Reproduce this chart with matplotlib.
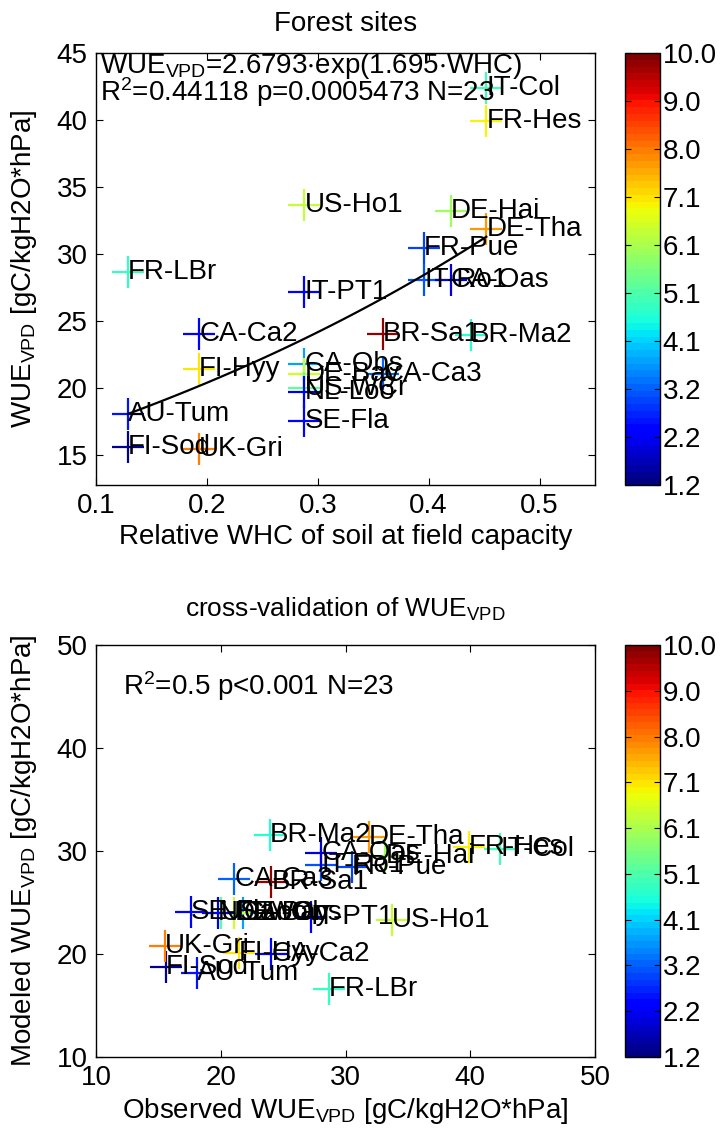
import numpy as np
import matplotlib
matplotlib.use("Agg")
import matplotlib.pyplot as plt

plt.rcParams['font.family'] = ['Liberation Sans', 'DejaVu Sans']
plt.rcParams['mathtext.fontset'] = 'custom'
plt.rcParams['mathtext.rm'] = 'Liberation Sans'
plt.rcParams['mathtext.it'] = 'Liberation Sans'
plt.rcParams['mathtext.default'] = 'regular'

# ---- data ----
sites = ["US-Ho1", "IT-Col", "FR-Hes", "DE-Hai", "DE-Tha", "FR-Pue", "FR-LBr",
         "IT-PT1", "CA-Ca2", "FI-Hyy", "AU-Tum", "FI-Sod", "UK-Gri", "CA-Obs",
         "DE-Bay", "US-WCr", "NL-Loo", "SE-Fla", "CA-Ca3", "BR-Sa1", "BR-Ma2",
         "IT-Ro1", "CA-Oas"]
whc = [0.288, 0.452, 0.452, 0.420, 0.452, 0.396, 0.129,
       0.288, 0.193, 0.193, 0.129, 0.129, 0.193, 0.288,
       0.288, 0.288, 0.288, 0.288, 0.359, 0.359, 0.438,
       0.396, 0.420]
wue_obs = [33.7, 42.4, 39.9, 33.2, 31.9, 30.5, 28.65,
           27.2, 24.05, 21.45, 18.1, 15.6, 15.5, 21.8,
           21.1, 20.0, 19.75, 17.6, 21.1, 24.05, 23.95,
           28.05, 28.05]
wue_mod = [23.3, 30.2, 30.4, 29.5, 31.4, 28.4, 16.6,
           23.6, 20.0, 20.1, 18.2, 18.7, 20.8, 24.0,
           24.0, 24.0, 24.0, 24.05, 27.3, 27.0, 31.6,
           28.6, 29.8]
color_val = [6.4, 5.05, 6.9, 5.9, 7.8, 2.95, 4.9,
             2.4, 2.4, 7.1, 2.5, 1.35, 8.0, 3.8,
             6.5, 5.2, 2.1, 2.35, 3.25, 9.85, 4.75,
             3.1, 1.9]
fit_a = 14.55
fit_b = 1.695
cbar_ticks = [1.2, 2.2, 3.2, 4.1, 5.1, 6.1, 7.1, 8.0, 9.0, 10.0]
clim = (1.2, 10.0)

W, H = 723, 1131
fig = plt.figure(figsize=(W / 100, H / 100), dpi=100)
cmap = plt.get_cmap('jet', 64)
norm = matplotlib.colors.Normalize(vmin=clim[0], vmax=clim[1])

FS = 20


def style_axes(ax):
    ax.tick_params(direction='in', top=True, right=True, labelsize=FS,
                   length=5, width=0.8, pad=6)
    for s in ax.spines.values():
        s.set_linewidth(1.0)


def add_cbar(ax_pos):
    cax = fig.add_axes(ax_pos)
    sm = matplotlib.cm.ScalarMappable(norm=norm, cmap=cmap)
    cb = fig.colorbar(sm, cax=cax)
    cb.set_ticks(np.linspace(clim[0], clim[1], len(cbar_ticks)))
    cb.set_ticklabels(["%.1f" % t for t in cbar_ticks])
    cax.tick_params(direction='in', left=True, right=True, labelsize=FS,
                    length=4, width=0.8, pad=2)
    cb.outline.set_linewidth(1.0)
    return cb


# ---- top panel ----
ax1 = fig.add_axes([96 / W, (H - 485) / H, 499 / W, 432 / H])
for i, s in enumerate(sites):
    c = cmap(norm(color_val[i]))
    ax1.plot(whc[i], wue_obs[i], '+', color=c, markersize=23, mew=1.6)
    ax1.text(whc[i], wue_obs[i], s, fontsize=FS, ha='left', va='center')
xf = np.linspace(min(whc), max(whc), 100)
ax1.plot(xf, fit_a * np.exp(fit_b * xf), 'k-', lw=1.6)
ax1.set_xlim(0.1, 0.55)
ax1.set_ylim(12.8, 45)
ax1.set_xticks([0.1, 0.2, 0.3, 0.4, 0.5])
ax1.set_yticks([15, 20, 25, 30, 35, 40, 45])
style_axes(ax1)
ax1.set_xlabel("Relative WHC of soil at field capacity", fontsize=FS, labelpad=3)
ax1.set_ylabel("WUE$_{VPD}$ [gC/kgH2O*hPa]", fontsize=FS)
ax1.yaxis.set_label_coords(-0.115, 0.5)
ax1.set_title("Forest sites", fontsize=FS, pad=16)
ax1.text(0.008, 1.005, "WUE$_{VPD}$=2.6793$\\cdot$exp(1.695$\\cdot$WHC)\nR$^2$=0.44118 p=0.0005473 N=23",
         transform=ax1.transAxes, fontsize=FS, ha='left', va='top', linespacing=0.8)
add_cbar([625 / W, (H - 485) / H, 35 / W, 432 / H])

# ---- bottom panel ----
ax2 = fig.add_axes([96 / W, (H - 1057) / H, 499 / W, 412 / H])
for i, s in enumerate(sites):
    c = cmap(norm(color_val[i]))
    ax2.plot(wue_obs[i], wue_mod[i], '+', color=c, markersize=23, mew=1.6)
    ax2.text(wue_obs[i], wue_mod[i], s, fontsize=FS, ha='left', va='center')
ax2.set_xlim(10, 50)
ax2.set_ylim(10, 50)
ax2.set_xticks([10, 20, 30, 40, 50])
ax2.set_yticks([10, 20, 30, 40, 50])
style_axes(ax2)
ax2.set_xlabel("Observed WUE$_{VPD}$ [gC/kgH2O*hPa]", fontsize=FS, labelpad=3)
ax2.set_ylabel("Modeled WUE$_{VPD}$ [gC/kgH2O*hPa]", fontsize=FS)
ax2.yaxis.set_label_coords(-0.115, 0.5)
ax2.set_title("cross-validation of WUE$_{VPD}$", fontsize=19, pad=20)
ax2.text(0.055, 0.9, "R$^2$=0.5 p<0.001 N=23", transform=ax2.transAxes,
         fontsize=FS, ha='left', va='center')
add_cbar([625 / W, (H - 1057) / H, 35 / W, 412 / H])

fig.savefig("out.png", dpi=100)
